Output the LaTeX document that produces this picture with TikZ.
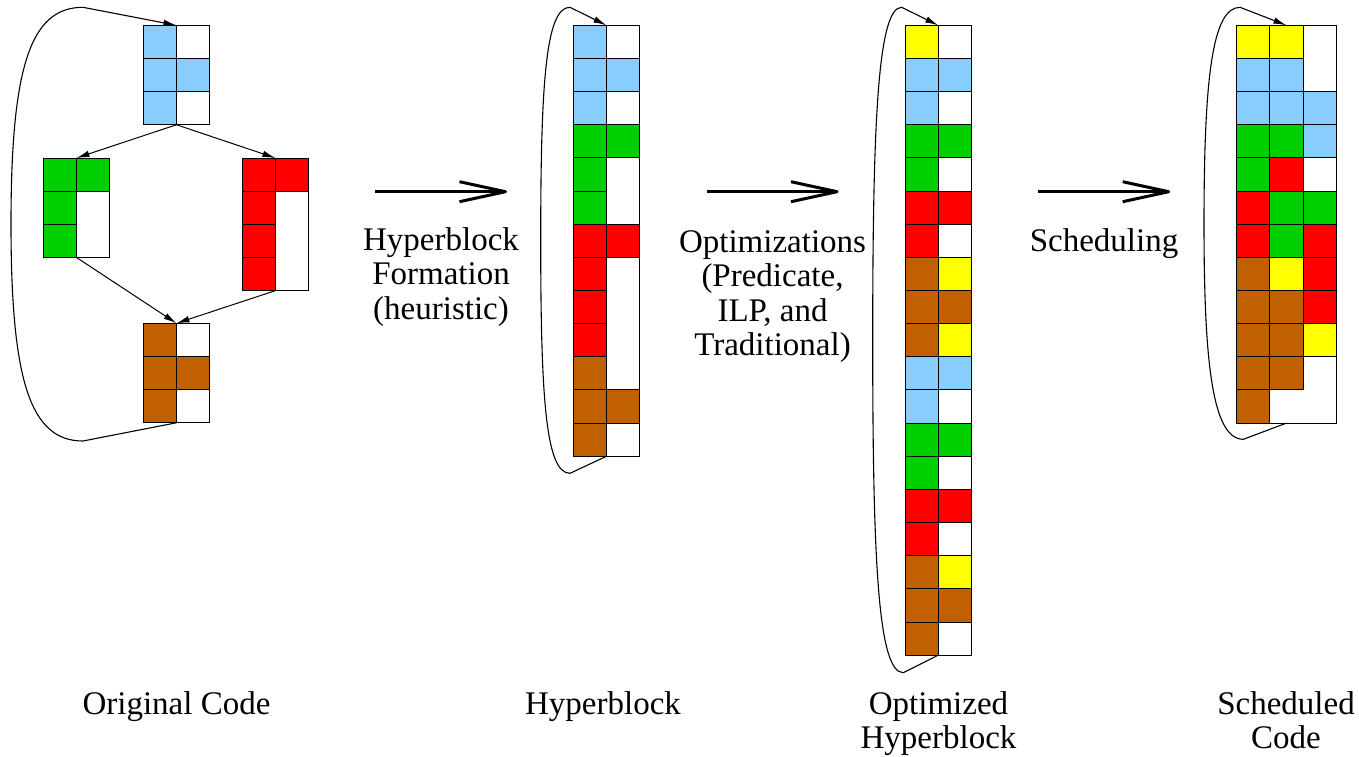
\documentclass[tikz,border=0pt]{standalone}
\usepackage{fontspec}
\setmainfont{Liberation Serif}
\usetikzlibrary{arrows.meta,calc}

% cell colours
\definecolor{lb}{RGB}{135,206,255}
\definecolor{gn}{RGB}{0,208,0}
\definecolor{rd}{RGB}{255,0,0}
\definecolor{bw}{RGB}{192,96,0}
\definecolor{ye}{RGB}{255,255,0}

% fill the coloured cells of a block: list of col/row/colour
\newcommand\fillcells[2]{%
  \foreach \cc/\rr/\kk in {#2}{%
    \filldraw[cellbox, fill=\kk]
      ($(#1.north west)+(\cc*33.15,\rr*33.15)$) rectangle ++(33.15,33.15);
  }%
}

\begin{document}
\begin{tikzpicture}[x=1pt, y=-1pt,
  block/.style={draw=black, fill=white, line width=1pt, inner sep=0pt,
                outer sep=0pt, anchor=north west},
  cellbox/.style={draw=black, line width=1pt},
  edge/.style={draw=black, line width=1pt, -{Latex[length=13pt,width=6.5pt]}},
  backedge/.style={draw=black, line width=1.1pt, -{Latex[length=13pt,width=6.5pt]}},
  bigarrow/.style={draw=black, line width=3pt, line join=round},
  label/.style={font=\fontsize{33}{34.5}\selectfont, align=center, inner sep=0pt, anchor=base}
]
\useasboundingbox (0,0) rectangle (1359,756);

% ---------- original code: four basic blocks ----------
\node[block, minimum width=66.3pt, minimum height=99.45pt]  (ob)  at (143.3,25.3)  {};
\node[block, minimum width=66.3pt, minimum height=99.45pt]  (og)  at (43.3,158)    {};
\node[block, minimum width=66.3pt, minimum height=132.6pt]  (or)  at (242.3,158)   {};
\node[block, minimum width=66.3pt, minimum height=99.45pt]  (obr) at (143.3,323.3) {};
\fillcells{ob}{0/0/lb,0/1/lb,1/1/lb,0/2/lb}
\fillcells{og}{0/0/gn,1/0/gn,0/1/gn,0/2/gn}
\fillcells{or}{0/0/rd,1/0/rd,0/1/rd,0/2/rd,0/3/rd}
\fillcells{obr}{0/0/bw,0/1/bw,1/1/bw,0/2/bw}

\draw[edge] (ob.south) -- (og.north);
\draw[edge] (ob.south) -- (or.north);
\draw[edge] (og.south) -- (obr.north);
\draw[edge] (or.south) -- (obr.north);
\draw[backedge] (obr.south) -- (83,441)
  .. controls (30,441) and (11,380) .. (11,224)
  .. controls (11,68) and (30,7.3) .. (83,7.3) -- (ob.north);

% ---------- hyperblock ----------
\node[block, minimum width=66.3pt, minimum height=430.95pt] (hb) at (573.3,25.3) {};
\fillcells{hb}{0/0/lb,0/1/lb,1/1/lb,0/2/lb,0/3/gn,1/3/gn,0/4/gn,0/5/gn,
  0/6/rd,1/6/rd,0/7/rd,0/8/rd,0/9/rd,0/10/bw,0/11/bw,1/11/bw,0/12/bw}
\draw[backedge] (hb.south) -- (570,473.3)
  .. controls (546,473.3) and (540.7,400) .. (540.7,240)
  .. controls (540.7,80) and (546,7.3) .. (570,7.3) -- (hb.north);

% ---------- optimized hyperblock ----------
\node[block, minimum width=66.3pt, minimum height=629.85pt] (oh) at (905,25.3) {};
\fillcells{oh}{0/0/ye,0/1/lb,1/1/lb,0/2/lb,0/3/gn,1/3/gn,0/4/gn,0/5/rd,1/5/rd,
  0/6/rd,0/7/bw,1/7/ye,0/8/bw,1/8/bw,0/9/bw,1/9/ye,0/10/lb,1/10/lb,0/11/lb,
  0/12/gn,1/12/gn,0/13/gn,0/14/rd,1/14/rd,0/15/rd,0/16/bw,1/16/ye,0/17/bw,
  1/17/bw,0/18/bw}
\draw[backedge] (oh.south) -- (903.3,672.7)
  .. controls (878,672.7) and (872.7,560) .. (872.7,340)
  .. controls (872.7,120) and (878,7.3) .. (901.7,7.3) -- (oh.north);

% ---------- scheduled code ----------
\node[block, minimum width=99.45pt, minimum height=397.8pt] (sc) at (1236.7,25.3) {};
\fillcells{sc}{0/0/ye,1/0/ye,0/1/lb,1/1/lb,0/2/lb,1/2/lb,2/2/lb,0/3/gn,1/3/gn,
  2/3/lb,0/4/gn,1/4/rd,0/5/rd,1/5/gn,2/5/gn,0/6/rd,1/6/gn,2/6/rd,0/7/bw,1/7/ye,
  2/7/rd,0/8/bw,1/8/bw,2/8/rd,0/9/bw,1/9/bw,2/9/ye,0/10/bw,1/10/bw,0/11/bw}
\draw[backedge] (sc.south) -- (1243.3,439.3)
  .. controls (1212,439.3) and (1204,360) .. (1204,224)
  .. controls (1204,80) and (1212,7.3) .. (1240,7.3) -- (sc.north);

% ---------- transformation arrows ----------
\coordinate (a1s) at (375,191.7);   \coordinate (a1e) at (505.5,191.7);
\coordinate (a2s) at (706.7,191.7); \coordinate (a2e) at (837,191.7);
\coordinate (a3s) at (1038.3,191.7);\coordinate (a3e) at (1168.7,191.7);
\foreach \s/\e in {a1s/a1e, a2s/a2e, a3s/a3e}{
  \draw[bigarrow] (\s) -- (\e);
  \draw[bigarrow] ($(\e)+(-46,-10)$) -- (\e) -- ($(\e)+(-46,10)$);
}

% ---------- labels (anchor base = baseline of the last line) ----------
\node[label] (t1) at (441,319)     {Hyperblock\\Formation\\(heuristic)};
\node[label] (t2) at (772.5,355.5) {Optimizations\\(Predicate,\\ILP, and\\Traditional)};
\node[label] (t3) at (1104,251)    {Scheduling};

\node[label] (n1) at (176.5,714)   {Original Code};
\node[label] (n2) at (603,714)     {Hyperblock};
\node[label] (n3) at (938.5,748.5) {Optimized\\Hyperblock};
\node[label] (n4) at (1286,748.5)  {Scheduled\\Code};
\end{tikzpicture}
\end{document}
